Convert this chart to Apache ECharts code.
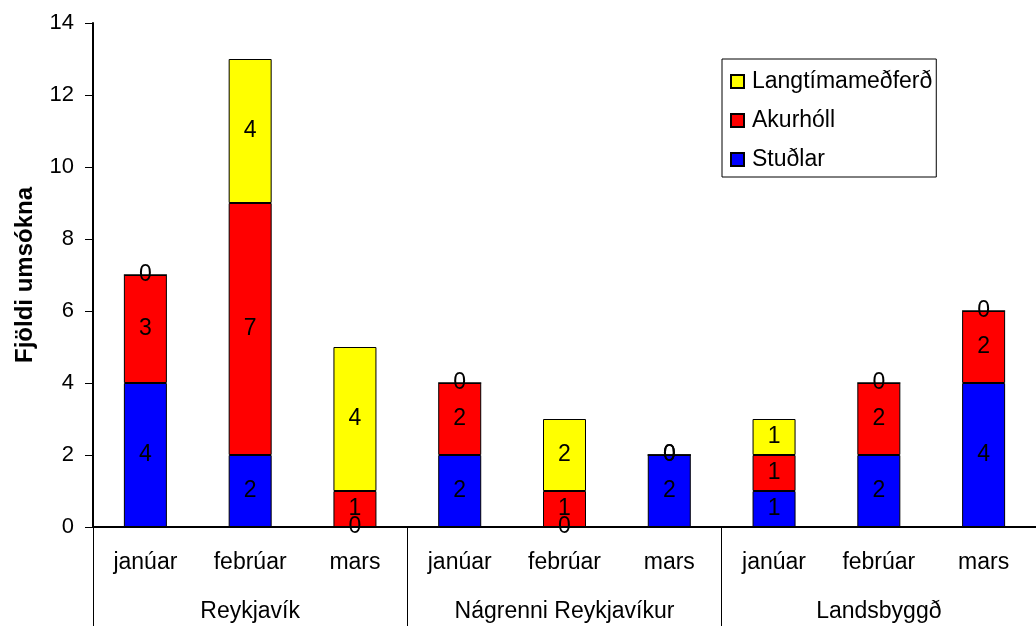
<!DOCTYPE html>
<html>
<head>
<meta charset="utf-8">
<script src="https://cdn.jsdelivr.net/npm/echarts@6/dist/echarts.min.js"></script>
<style>
  html, body { margin: 0; padding: 0; background: #fff; }
  #chart { width: 1036px; height: 626px; }
</style>
</head>
<body>
<div id="chart"></div>
<script>
// categories
const months = ['janúar', 'febrúar', 'mars', 'janúar', 'febrúar', 'mars', 'janúar', 'febrúar', 'mars'];
const regions = ['Reykjavík', 'Nágrenni Reykjavíkur', 'Landsbyggð'];
// series values
const studlar = [4, 2, 0, 2, 0, 2, 1, 2, 4];
const akurholl = [3, 7, 1, 2, 1, 0, 1, 2, 2];
const langtima = [0, 4, 4, 0, 2, 0, 1, 0, 0];

const font = 'Liberation Sans, Arial, sans-serif';

function bar(name, data, color) {
  return {
    name: name,
    type: 'bar',
    stack: 'total',
    data: data,
    barWidth: 43,
    itemStyle: { color: color, borderColor: '#000', borderWidth: 1 },
    label: {
      show: true,
      position: 'inside',
      color: '#000',
      fontSize: 23,
      fontFamily: font
    }
  };
}

let myChart = echarts.init(document.getElementById('chart'));
let option = {
  animation: false,
  backgroundColor: '#fff',
  textStyle: { fontFamily: font },
  grid: { left: 93, top: 23, width: 954, height: 504 },
  legend: {
    orient: 'vertical',
    left: 722,
    top: 59,
    data: ['Langtímameðferð', 'Akurhóll', 'Stuðlar'],
    icon: 'rect',
    itemWidth: 13,
    itemHeight: 13,
    itemGap: 16,
    padding: [11, 4, 6, 8],
    borderColor: '#000',
    borderWidth: 1,
    backgroundColor: '#fff',
    textStyle: { fontSize: 23, color: '#000', fontFamily: font, padding: [0, 0, 0, 3] }
  },
  xAxis: [{
    type: 'category',
    data: months,
    axisLine: { lineStyle: { color: '#000', width: 2 } },
    axisTick: { show: false },
    axisLabel: { color: '#000', fontSize: 23, margin: 24, interval: 0, fontFamily: font }
  }, {
    type: 'category',
    data: regions,
    position: 'bottom',
    axisLine: { show: false },
    axisTick: { show: true, length: 99, lineStyle: { color: '#000', width: 1 } },
    axisLabel: { color: '#000', fontSize: 23, margin: 73, interval: 0, fontFamily: font }
  }],
  yAxis: {
    type: 'value',
    min: 0,
    max: 14,
    interval: 2,
    name: 'Fjöldi umsókna',
    nameLocation: 'middle',
    nameGap: 56,
    nameTextStyle: { color: '#000', fontSize: 24, fontWeight: 'bold', fontFamily: font },
    axisLine: { show: true, lineStyle: { color: '#000', width: 2 } },
    axisTick: { show: true, length: 8, lineStyle: { color: '#000' } },
    axisLabel: { color: '#000', fontSize: 22, margin: 19, fontFamily: font },
    splitLine: { show: false }
  },
  series: [
    bar('Stuðlar', studlar, '#0000ff'),
    bar('Akurhóll', akurholl, '#ff0000'),
    bar('Langtímameðferð', langtima, '#ffff00')
  ]
};
myChart.setOption(option);
</script>
</body>
</html>
